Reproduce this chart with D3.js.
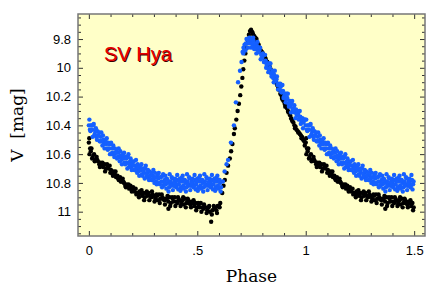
<!DOCTYPE html>
<html><head><meta charset="utf-8">
<script src="https://cdn.jsdelivr.net/npm/d3@7"></script>
<style>body{margin:0;background:#fff}</style>
</head><body>
<svg id="c" width="436" height="296"></svg>
<script>
const titleText = "SV Hya";
const xLabel = "Phase";
const yLabel = "V\u00a0\u00a0[mag]";
const xMajor = [0, 0.5, 1, 1.5];
const xMajorLabels = ["0", ".5", "1", "1.5"];
const xMinor = [0.1,0.2,0.3,0.4,0.6,0.7,0.8,0.9,1.1,1.2,1.3,1.4];
const yMajor = [9.8, 10, 10.2, 10.4, 10.6, 10.8, 11];
const yMajorLabels = ["9.8","10","10.2","10.4","10.6","10.8","11"];
const yMinor = [9.65,9.7,9.75,9.85,9.9,9.95,10.05,10.1,10.15,10.25,10.3,10.35,10.45,10.5,10.55,10.65,10.7,10.75,10.85,10.9,10.95,11.05,11.1,11.15];

// phase, V magnitude (one cycle, 0..1)
const blackObs = [[0.000,10.52],[0.002,10.49],[0.006,10.56],[0.012,10.56],[0.018,10.62],[0.024,10.60],[0.030,10.64],[0.036,10.62],[0.042,10.65],[0.048,10.67],[0.054,10.66],[0.060,10.67],[0.066,10.69],[0.072,10.67],[0.078,10.70],[0.084,10.67],[0.090,10.70],[0.096,10.68],[0.102,10.71],[0.108,10.73],[0.114,10.72],[0.120,10.74],[0.126,10.76],[0.132,10.75],[0.138,10.78],[0.144,10.76],[0.150,10.79],[0.156,10.77],[0.162,10.80],[0.168,10.82],[0.174,10.81],[0.180,10.82],[0.186,10.84],[0.192,10.82],[0.198,10.86],[0.204,10.83],[0.210,10.86],[0.216,10.84],[0.222,10.87],[0.228,10.88],[0.234,10.86],[0.240,10.87],[0.246,10.89],[0.252,10.87],[0.258,10.90],[0.264,10.87],[0.270,10.89],[0.276,10.87],[0.282,10.89],[0.288,10.90],[0.294,10.88],[0.300,10.89],[0.306,10.91],[0.312,10.88],[0.318,10.92],[0.324,10.88],[0.330,10.91],[0.336,10.88],[0.342,10.91],[0.348,10.92],[0.354,10.91],[0.360,10.91],[0.366,10.93],[0.367,10.98],[0.372,10.90],[0.378,10.94],[0.384,10.90],[0.390,10.93],[0.396,10.90],[0.402,10.93],[0.408,10.94],[0.414,10.92],[0.420,10.92],[0.426,10.94],[0.432,10.92],[0.438,10.95],[0.444,10.91],[0.450,10.94],[0.456,10.91],[0.462,10.94],[0.468,10.95],[0.474,10.93],[0.480,10.94],[0.486,10.96],[0.492,10.94],[0.498,10.97],[0.504,10.94],[0.510,10.97],[0.516,10.94],[0.522,10.97],[0.528,10.98],[0.534,10.97],[0.540,10.97],[0.546,10.99],[0.552,10.97],[0.558,11.00],[0.564,11.07],[0.570,10.99],[0.576,10.96],[0.582,10.98],[0.588,10.99],[0.594,10.96],[0.600,10.96],[0.606,10.94],[0.615,10.87],[0.621,10.82],[0.627,10.78],[0.635,10.73],[0.642,10.68],[0.650,10.63],[0.656,10.58],[0.662,10.53],[0.669,10.46],[0.673,10.42],[0.680,10.36],[0.686,10.30],[0.692,10.25],[0.698,10.19],[0.703,10.13],[0.708,10.07],[0.712,10.01],[0.717,9.95],[0.722,9.90],[0.727,9.86],[0.733,9.81],[0.738,9.77],[0.743,9.745],[0.748,9.735],[0.753,9.75],[0.758,9.77],[0.763,9.78],[0.768,9.79],[0.773,9.80],[0.778,9.83],[0.783,9.84],[0.788,9.87],[0.793,9.88],[0.798,9.89],[0.803,9.90],[0.808,9.92],[0.813,9.93],[0.818,9.95],[0.823,9.96],[0.828,9.98],[0.833,9.99],[0.838,10.01],[0.843,10.02],[0.848,10.04],[0.853,10.06],[0.858,10.08],[0.863,10.10],[0.868,10.12],[0.873,10.14],[0.878,10.15],[0.883,10.18],[0.888,10.19],[0.893,10.22],[0.898,10.23],[0.903,10.25],[0.908,10.26],[0.913,10.28],[0.918,10.30],[0.923,10.31],[0.928,10.33],[0.933,10.35],[0.938,10.37],[0.943,10.38],[0.948,10.40],[0.953,10.41],[0.958,10.43],[0.963,10.44],[0.968,10.45],[0.973,10.46],[0.978,10.47],[0.983,10.48],[0.988,10.50],[0.993,10.51],[0.998,10.52],
[0.003,10.60],[0.009,10.58],[0.015,10.63],[0.027,10.65],[0.039,10.64],[0.051,10.69],[0.063,10.66],[0.075,10.72],[0.087,10.69],[0.099,10.73],[0.111,10.75],[0.123,10.72],[0.135,10.77],[0.147,10.79],[0.159,10.79],[0.171,10.83],[0.183,10.81],[0.195,10.84],
[0.203,10.85],[0.219,10.88],[0.231,10.90],[0.243,10.85],[0.255,10.92],[0.267,10.86],[0.279,10.92],[0.291,10.86],[0.303,10.93],[0.315,10.89],[0.327,10.94],[0.339,10.90],[0.351,10.95],[0.363,10.89],[0.375,10.96],[0.387,10.91],[0.399,10.96],[0.411,10.90],[0.423,10.96],[0.435,10.90],[0.447,10.97],[0.459,10.92],[0.471,10.97],[0.483,10.92],[0.495,10.99],[0.507,10.95],[0.519,11.00],[0.531,10.95],[0.543,11.01],[0.555,10.96],[0.567,11.02],[0.579,10.97],[0.591,11.01],[0.603,10.97],
[0.7555,9.76],[0.7705,9.82],[0.7855,9.86],[0.8005,9.91],[0.8155,9.94],[0.8305,9.99],[0.8455,10.04],[0.8605,10.10],[0.8755,10.15],[0.8905,10.21],[0.9055,10.27],[0.9205,10.31],[0.9355,10.36],[0.9505,10.42],[0.9655,10.45],[0.9805,10.49],[0.9955,10.54]];

const blueObs = [[0.000,10.40],[0.005,10.43],[0.010,10.40],[0.015,10.43],[0.020,10.40],[0.025,10.47],[0.030,10.44],[0.035,10.48],[0.040,10.44],[0.045,10.47],[0.050,10.51],[0.055,10.48],[0.060,10.51],[0.065,10.47],[0.070,10.53],[0.075,10.51],[0.080,10.53],[0.085,10.56],[0.090,10.52],[0.095,10.56],[0.100,10.53],[0.105,10.60],[0.110,10.56],[0.115,10.60],[0.120,10.56],[0.125,10.59],[0.130,10.63],[0.135,10.59],[0.140,10.62],[0.145,10.58],[0.150,10.64],[0.155,10.62],[0.160,10.63],[0.165,10.66],[0.170,10.62],[0.175,10.66],[0.180,10.62],[0.185,10.69],[0.190,10.65],[0.195,10.69],[0.200,10.65],[0.205,10.68],[0.210,10.71],[0.215,10.68],[0.220,10.70],[0.225,10.67],[0.230,10.72],[0.235,10.70],[0.240,10.71],[0.245,10.74],[0.250,10.70],[0.255,10.73],[0.260,10.70],[0.265,10.76],[0.270,10.73],[0.275,10.76],[0.280,10.72],[0.285,10.75],[0.290,10.78],[0.295,10.75],[0.300,10.77],[0.305,10.73],[0.310,10.79],[0.315,10.76],[0.320,10.77],[0.325,10.80],[0.330,10.76],[0.335,10.79],[0.340,10.75],[0.345,10.82],[0.350,10.78],[0.355,10.81],[0.360,10.77],[0.365,10.80],[0.370,10.83],[0.375,10.79],[0.380,10.81],[0.385,10.77],[0.390,10.82],[0.395,10.79],[0.400,10.80],[0.405,10.82],[0.410,10.78],[0.415,10.81],[0.420,10.77],[0.425,10.83],[0.430,10.79],[0.435,10.82],[0.440,10.78],[0.445,10.80],[0.450,10.83],[0.455,10.79],[0.460,10.81],[0.465,10.77],[0.470,10.82],[0.475,10.79],[0.480,10.80],[0.485,10.82],[0.490,10.78],[0.495,10.81],[0.500,10.77],[0.505,10.83],[0.510,10.79],[0.515,10.82],[0.520,10.78],[0.525,10.80],[0.530,10.83],[0.535,10.79],[0.540,10.81],[0.545,10.77],[0.550,10.82],[0.555,10.79],[0.560,10.80],[0.565,10.82],[0.570,10.78],[0.575,10.81],[0.580,10.77],[0.585,10.83],[0.590,10.79],[0.595,10.82],[0.600,10.78],[0.605,10.80],[0.610,10.83],[0.618,10.79],[0.626,10.72],[0.635,10.67],[0.642,10.64],[0.655,10.52],[0.669,10.40],[0.678,10.24],[0.688,10.10],[0.697,10.02],[0.704,9.96],[0.709,9.89],[0.713,9.86],[0.718,9.84],[0.722,9.88],[0.727,9.80],[0.731,9.83],[0.736,9.81],[0.740,9.79],[0.745,9.82],[0.750,9.80],[0.755,9.84],[0.759,9.81],[0.764,9.86],[0.768,9.84],[0.773,9.87],[0.777,9.85],[0.782,9.89],[0.786,9.88],[0.790,9.86],[0.795,9.91],[0.800,9.93],[0.805,9.91],[0.810,9.96],[0.815,9.95],[0.820,9.98],[0.825,9.97],[0.830,10.01],[0.835,10.00],[0.840,10.04],[0.845,10.03],[0.850,10.07],[0.855,10.05],[0.860,10.09],[0.865,10.08],[0.870,10.12],[0.875,10.11],[0.880,10.15],[0.885,10.13],[0.890,10.17],[0.895,10.16],[0.900,10.20],[0.905,10.18],[0.910,10.22],[0.915,10.21],[0.920,10.25],[0.925,10.23],[0.930,10.27],[0.935,10.25],[0.940,10.29],[0.945,10.28],[0.950,10.31],[0.955,10.29],[0.960,10.33],[0.965,10.32],[0.970,10.35],[0.975,10.34],[0.980,10.37],[0.985,10.35],[0.990,10.38],[0.995,10.36],
[0.0025,10.36],[0.0075,10.44],[0.0125,10.40],[0.0175,10.48],[0.0225,10.39],[0.0275,10.46],[0.0325,10.42],[0.0375,10.50],[0.0425,10.47],[0.0475,10.45],[0.0525,10.51],[0.0575,10.45],[0.0625,10.54],[0.0675,10.50],[0.0725,10.56],[0.0775,10.50],[0.0825,10.49],[0.0875,10.57],[0.0925,10.53],[0.0975,10.60],[0.1025,10.52],[0.1075,10.59],[0.1125,10.54],[0.1175,10.62],[0.1225,10.59],[0.1275,10.57],[0.1325,10.62],[0.1375,10.56],[0.1425,10.65],[0.1475,10.61],[0.1525,10.67],[0.1575,10.60],[0.1625,10.59],[0.1675,10.67],[0.1725,10.63],[0.1775,10.70],[0.1825,10.60],[0.1875,10.67],[0.1925,10.63],[0.1975,10.71],[0.2025,10.67],[0.2075,10.65],[0.2125,10.71],[0.2175,10.64],[0.2225,10.73],[0.2275,10.69],[0.2325,10.75],[0.2375,10.68],[0.2425,10.67],[0.2475,10.75],[0.2525,10.71],[0.2575,10.77],[0.2625,10.68],[0.2675,10.75],[0.2725,10.71],[0.2775,10.78],[0.2825,10.75],[0.2875,10.73],[0.2925,10.78],[0.2975,10.71],[0.3025,10.80],[0.3075,10.76],[0.3125,10.81],[0.3175,10.74],[0.3225,10.73],[0.3275,10.81],[0.3325,10.76],[0.3375,10.83],[0.3425,10.74],[0.3475,10.80],
[0.3525,10.75],[0.3575,10.84],[0.3625,10.78],[0.3675,10.86],[0.3725,10.74],[0.3775,10.82],[0.3825,10.76],[0.3875,10.85],[0.3925,10.80],[0.3975,10.77],[0.4025,10.83],[0.4075,10.745],[0.4125,10.845],[0.4175,10.79],[0.4225,10.855],[0.4275,10.765],[0.4325,10.75],[0.4375,10.84],[0.4425,10.78],[0.4475,10.86],[0.4525,10.74],[0.4575,10.82],[0.4625,10.76],[0.4675,10.85],[0.4725,10.80],[0.4775,10.77],[0.4825,10.83],[0.4875,10.745],[0.4925,10.845],[0.4975,10.79],[0.5025,10.855],[0.5075,10.765],[0.5125,10.75],[0.5175,10.84],[0.5225,10.78],[0.5275,10.86],[0.5325,10.74],[0.5375,10.82],[0.5425,10.76],[0.5475,10.85],[0.5525,10.80],[0.5575,10.77],[0.5625,10.83],[0.5675,10.745],[0.5725,10.845],[0.5775,10.79],[0.5825,10.855],[0.5875,10.765],[0.5925,10.75],[0.5975,10.84],[0.6025,10.78],[0.6075,10.86],
[0.712,9.90],[0.716,9.88],[0.724,9.83],[0.733,9.86],[0.742,9.83],[0.748,9.86],[0.752,9.83],
[0.7575,9.79],[0.7625,9.87],[0.7675,9.83],[0.7725,9.90],[0.7775,9.82],[0.7825,9.89],[0.7875,9.86],[0.7925,9.94],[0.7975,9.91],[0.8025,9.90],[0.8075,9.96],[0.8125,9.91],[0.8175,10.00],[0.8225,9.97],[0.8275,10.03],[0.8325,9.97],[0.8375,9.97],[0.8425,10.06],[0.8475,10.02],[0.8525,10.10],[0.8575,10.02],[0.8625,10.09],[0.8675,10.06],[0.8725,10.15],[0.8775,10.12],[0.8825,10.11],[0.8875,10.17],[0.8925,10.12],[0.8975,10.21],[0.9025,10.18],[0.9075,10.24],[0.9125,10.18],[0.9175,10.18],[0.9225,10.27],[0.9275,10.23],[0.9325,10.31],[0.9375,10.23],[0.9425,10.30],[0.9475,10.26],[0.9525,10.35],[0.9575,10.32],[0.9625,10.30],[0.9675,10.36],[0.9725,10.30],[0.9775,10.39],[0.9825,10.36],[0.9875,10.42],[0.9925,10.36],[0.9975,10.36]];

const L=78, R=425, T=14, B=236;
const svg = d3.select("#c");
svg.append("rect").attr("width",436).attr("height",296).attr("fill","#fff");
const x = d3.scaleLinear().domain([-0.05,1.55]).range([L,R]);
const y = d3.scaleLinear().domain([9.626,11.169]).range([T,B]);

svg.append("rect").attr("x",L).attr("y",T).attr("width",R-L).attr("height",B-T).attr("fill","#ffffc8");

// fold: repeat phases < 0.5 at +1
function unfold(obs){ const out=[]; obs.forEach(d=>{out.push(d); if(d[0]<0.5) out.push([d[0]+1,d[1]]);}); return out; }

const pts = svg.append("g");
pts.selectAll("circle.k").data(unfold(blackObs)).join("circle").attr("class","k")
  .attr("cx",d=>x(d[0])).attr("cy",d=>y(d[1])).attr("r",2.2).attr("fill","#000");
pts.selectAll("circle.b").data(unfold(blueObs)).join("circle").attr("class","b")
  .attr("cx",d=>x(d[0])).attr("cy",d=>y(d[1])).attr("r",2.2).attr("fill","#1560ff");

function styleAxis(g){ g.select(".domain").remove(); g.selectAll(".tick line").attr("stroke","#333"); g.selectAll("text").attr("font-family","'Liberation Sans', Arial, sans-serif").attr("font-size",13).attr("fill","#000"); }

svg.append("g").attr("transform",`translate(0,${B})`)
  .call(d3.axisBottom(x).tickValues(xMajor).tickSize(-5).tickPadding(10).tickFormat((d,i)=>xMajorLabels[i])).call(styleAxis);
svg.append("g").attr("transform",`translate(0,${B})`)
  .call(d3.axisBottom(x).tickValues(xMinor).tickSize(-3).tickFormat("")).call(styleAxis);
svg.append("g").attr("transform",`translate(0,${T})`)
  .call(d3.axisTop(x).tickValues(xMajor).tickSize(-5).tickFormat("")).call(styleAxis);
svg.append("g").attr("transform",`translate(0,${T})`)
  .call(d3.axisTop(x).tickValues(xMinor).tickSize(-3).tickFormat("")).call(styleAxis);
svg.append("g").attr("transform",`translate(${L},0)`)
  .call(d3.axisLeft(y).tickValues(yMajor).tickSize(-5).tickPadding(7).tickFormat((d,i)=>yMajorLabels[i])).call(styleAxis);
svg.append("g").attr("transform",`translate(${L},0)`)
  .call(d3.axisLeft(y).tickValues(yMinor).tickSize(-3).tickFormat("")).call(styleAxis);
svg.append("g").attr("transform",`translate(${R},0)`)
  .call(d3.axisRight(y).tickValues(yMajor).tickSize(-5).tickFormat("")).call(styleAxis);
svg.append("g").attr("transform",`translate(${R},0)`)
  .call(d3.axisRight(y).tickValues(yMinor).tickSize(-3).tickFormat("")).call(styleAxis);

svg.append("rect").attr("x",L).attr("y",T).attr("width",R-L).attr("height",B-T)
  .attr("fill","none").attr("stroke","#777").attr("stroke-width",1.5);

svg.append("text").attr("x",(L+R)/2).attr("y",282).attr("text-anchor","middle")
  .attr("font-family","'DejaVu Serif', serif").attr("font-size",17).text(xLabel);
svg.append("text").attr("transform",`translate(23,${(T+B)/2}) rotate(-90)`).attr("text-anchor","middle")
  .attr("font-family","'DejaVu Serif', serif").attr("font-size",17).text(yLabel);

svg.append("text").attr("x",105).attr("y",62).attr("font-family","'Liberation Sans', Arial, sans-serif")
  .attr("font-size",20).attr("fill","#3a0000").text(titleText);
svg.append("text").attr("x",104).attr("y",61).attr("font-family","'Liberation Sans', Arial, sans-serif")
  .attr("font-size",20).attr("fill","#e80000").text(titleText);
</script>
</body></html>
